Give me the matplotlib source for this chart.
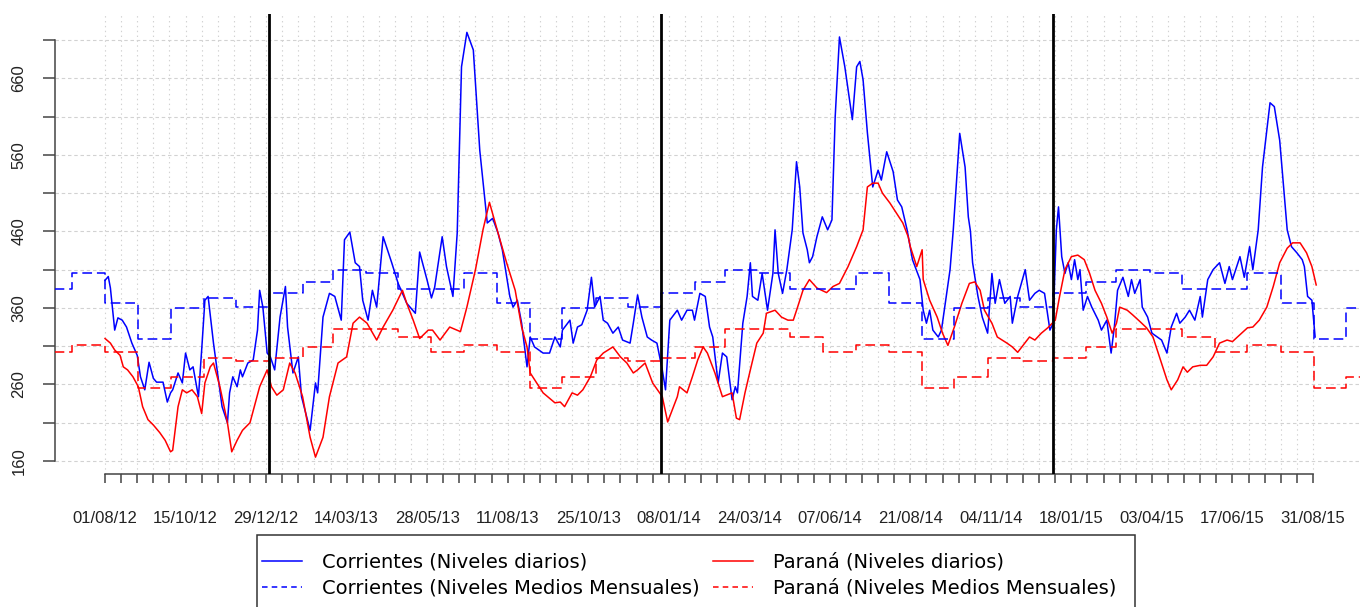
import numpy as np
import pandas as pd
import matplotlib
matplotlib.use('Agg')
import matplotlib.pyplot as plt
import matplotlib.dates as mdates
from matplotlib.lines import Line2D
from matplotlib.patches import Rectangle

plt.rcParams['lines.scale_dashes'] = False

inicio = pd.Timestamp('2012-08-01')

# niveles diarios (dias desde 01/08/12, altura)
dia_corr = [0, 3, 5, 9, 12, 16, 20, 25, 30, 33, 37, 41, 45, 48, 54, 58, 61, 63, 68, 72,
            75, 79, 82, 87, 90, 93, 96, 101, 104, 109, 114, 116, 119, 123, 126, 128, 133, 138, 142, 144,
            147, 151, 154, 158, 163, 168, 170, 175, 180, 183, 191, 196, 198, 203, 209, 214, 220, 223, 228, 233,
            237, 240, 245, 249, 253, 259, 267, 273, 281, 289, 293, 300, 304, 307, 314, 318, 324, 328, 332, 337,
            343, 349, 356, 361, 366, 370, 377, 380, 384, 388, 393, 396, 400, 408, 414, 419, 424, 426, 433, 436,
            440, 444, 449, 453, 456, 461, 464, 468, 473, 478, 482, 489, 492, 496, 500, 505, 509, 514, 519, 522,
            526, 533, 537, 542, 547, 549, 554, 559, 563, 566, 571, 575, 579, 584, 587, 589, 594, 598, 601, 603,
            608, 612, 617, 622, 624, 627, 631, 635, 640, 644, 647, 650, 654, 656, 659, 663, 668, 673, 677, 680,
            684, 689, 696, 700, 703, 706, 710, 715, 720, 723, 728, 734, 738, 742, 747, 752, 759, 762, 765, 768,
            771, 776, 779, 787, 790, 796, 801, 804, 806, 808, 813, 817, 822, 826, 829, 833, 838, 843, 845, 850,
            857, 861, 866, 870, 875, 880, 883, 886, 888, 891, 894, 897, 900, 903, 906, 908, 911, 915, 919, 925,
            928, 933, 937, 940, 943, 948, 953, 956, 959, 964, 966, 971, 975, 980, 984, 989, 993, 998, 1001, 1006,
            1010, 1015, 1020, 1022, 1027, 1032, 1038, 1043, 1047, 1050, 1057, 1061, 1066, 1069, 1074, 1078, 1085, 1089, 1094, 1101,
            1105, 1110, 1115, 1117, 1120, 1124, 1127]
niv_corr = [396, 401, 386, 331, 347, 344, 335, 314, 298, 270, 253, 289, 268, 263, 263, 237, 249, 253, 275, 262,
            301, 279, 283, 244, 305, 370, 375, 314, 283, 231, 210, 249, 270, 257, 279, 270, 288, 292, 331, 383,
            361, 301, 296, 279, 348, 388, 335, 275, 296, 244, 200, 262, 249, 348, 379, 375, 344, 449, 459, 419,
            414, 370, 344, 383, 361, 453, 419, 392, 366, 353, 433, 396, 373, 387, 453, 414, 375, 458, 675, 720,
            697, 566, 471, 477, 458, 436, 375, 361, 370, 340, 283, 322, 309, 301, 301, 322, 309, 331, 344, 314,
            335, 338, 357, 400, 361, 375, 344, 340, 327, 335, 318, 314, 340, 377, 348, 322, 318, 314, 279, 253,
            344, 357, 344, 357, 357, 344, 379, 375, 335, 322, 262, 301, 296, 240, 257, 249, 340, 375, 419, 375,
            370, 405, 357, 405, 462, 405, 379, 410, 462, 551, 518, 458, 436, 419, 427, 453, 479, 462, 475, 609,
            714, 675, 606, 675, 682, 658, 589, 518, 540, 527, 564, 538, 501, 492, 462, 423, 397, 357, 340, 357,
            331, 322, 331, 410, 462, 588, 544, 479, 460, 419, 375, 348, 327, 405, 366, 397, 366, 375, 340, 375,
            410, 370, 379, 383, 379, 331, 340, 462, 492, 427, 405, 419, 397, 423, 397, 410, 357, 375, 361, 344,
            331, 344, 301, 335, 383, 400, 375, 397, 379, 397, 361, 348, 327, 322, 318, 301, 335, 353, 340, 348,
            357, 344, 375, 348, 397, 410, 419, 392, 414, 397, 427, 400, 440, 410, 462, 544, 628, 623, 579, 462,
            440, 432, 423, 414, 375, 370, 322]

dia_par = [0, 5, 9, 14, 17, 21, 26, 31, 35, 40, 45, 51, 56, 61, 63, 68, 72, 76, 81, 86,
           90, 93, 98, 101, 107, 114, 118, 123, 128, 135, 140, 144, 151, 155, 160, 166, 172, 177, 184, 191,
           196, 203, 209, 217, 225, 231, 237, 244, 253, 259, 268, 277, 281, 287, 293, 301, 305, 312, 321, 331,
           337, 345, 352, 358, 366, 374, 382, 388, 393, 396, 402, 408, 419, 424, 428, 435, 440, 445, 452, 458,
           464, 473, 480, 486, 492, 496, 503, 510, 519, 524, 533, 535, 542, 547, 552, 557, 561, 568, 575, 584,
           588, 591, 596, 601, 607, 613, 616, 624, 630, 636, 641, 645, 650, 656, 663, 672, 678, 684, 692, 700,
           706, 710, 715, 720, 724, 731, 737, 743, 748, 750, 756, 761, 762, 768, 775, 780, 785, 791, 798, 805,
           810, 815, 819, 826, 831, 840, 845, 850, 855, 861, 866, 872, 878, 885, 889, 894, 900, 906, 912, 917,
           922, 928, 933, 938, 942, 945, 952, 957, 964, 970, 976, 982, 989, 993, 999, 1004, 1008, 1013, 1020, 1026,
           1032, 1038, 1045, 1050, 1057, 1064, 1069, 1075, 1082, 1088, 1094, 1101, 1106, 1113, 1119, 1124, 1128]
niv_par = [320, 314, 305, 298, 283, 279, 270, 257, 231, 214, 207, 197, 187, 172, 174, 231, 253, 249, 253, 244,
           222, 262, 283, 288, 257, 210, 172, 187, 200, 210, 236, 257, 279, 257, 246, 253, 288, 275, 244, 191,
           165, 191, 244, 288, 296, 340, 348, 340, 318, 335, 357, 383, 366, 344, 320, 331, 331, 318, 335, 329,
           361, 410, 462, 498, 458, 419, 383, 335, 309, 275, 262, 249, 236, 237, 231, 249, 246, 253, 270, 292,
           301, 309, 296, 288, 275, 279, 288, 262, 244, 211, 244, 257, 249, 270, 292, 309, 301, 275, 244, 249,
           216, 214, 249, 279, 314, 327, 353, 357, 348, 344, 344, 361, 383, 397, 386, 380, 388, 392, 414, 440,
           462, 518, 523, 523, 510, 497, 484, 471, 453, 440, 414, 436, 397, 370, 348, 327, 311, 335, 366, 392,
           394, 383, 357, 340, 322, 314, 309, 302, 311, 322, 318, 327, 334, 344, 375, 410, 427, 429, 423, 405,
           383, 366, 348, 327, 340, 361, 357, 351, 342, 334, 322, 296, 266, 253, 266, 283, 276, 283, 285, 285,
           296, 314, 318, 316, 325, 334, 335, 344, 361, 388, 419, 438, 445, 445, 432, 414, 390]

# niveles medios mensuales (enero a diciembre)
medio_corr = [379, 394, 410, 405, 385, 385, 405, 367, 320, 360, 373, 361]
medio_par = [294, 309, 332, 332, 322, 303, 312, 303, 256, 270, 295, 290]

fecha_corr = inicio + pd.to_timedelta(dia_corr, unit='D')
fecha_par = inicio + pd.to_timedelta(dia_par, unit='D')
meses = pd.date_range('2012-06-01', '2016-01-01', freq='MS')
mes_corr = [medio_corr[m.month - 1] for m in meses]
mes_par = [medio_par[m.month - 1] for m in meses]

cortes = pd.to_datetime(['2013-01-01', '2014-01-01', '2015-01-01'])
ticks_x = pd.date_range(inicio, periods=76, freq='15D')
etiq_x = [t.strftime('%d/%m/%y') if i % 5 == 0 else '' for i, t in enumerate(ticks_x)]
ticks_y = np.arange(160, 711, 50)
etiq_y = [str(v) if (v - 160) % 100 == 0 else '' for v in ticks_y]

W, H = 1360, 607
fig = plt.figure(figsize=(W / 100, H / 100), dpi=100)
ax = fig.add_axes([55 / W, (H - 474) / H, (W - 55) / W, 460 / H])

ax.plot(fecha_corr, niv_corr, color='blue', lw=1.1, zorder=3)
ax.plot(fecha_par, niv_par, color='red', lw=1.1, zorder=3)
ax.step(meses, mes_corr, where='post', color='blue', lw=1.1, dashes=(7, 3.5), zorder=3)
ax.step(meses, mes_par, where='post', color='red', lw=1.1, dashes=(7, 3.5), zorder=3)
for c in cortes:
    ax.axvline(c, color='black', lw=2, zorder=4)

ax.set_xlim(inicio - pd.Timedelta(days=46.6), inicio + pd.Timedelta(days=1168.8))
ax.set_ylim(143, 744)
ax.set_xticks(ticks_x)
ax.set_xticklabels(etiq_x)
ax.set_yticks(ticks_y)
ax.set_yticklabels(etiq_y, rotation=90, va='center')

ax.set_axisbelow(True)
ax.xaxis.grid(True, color='#d2d2d2', lw=0.8, linestyle=(0, (1, 2.5)))
ax.yaxis.grid(True, color='#d2d2d2', lw=0.8, linestyle=(0, (2.5, 2)))

for s in ['top', 'right']:
    ax.spines[s].set_visible(False)
ax.spines['left'].set_bounds(160, 710)
ax.spines['bottom'].set_bounds(mdates.date2num(ticks_x[0]), mdates.date2num(ticks_x[-1]))
for s in ['left', 'bottom']:
    ax.spines[s].set_color('#444444')
    ax.spines[s].set_linewidth(1.1)

ax.tick_params(axis='x', length=6.5, width=1.1, color='#444444', pad=20,
               labelsize=12, labelcolor='#222222')
ax.tick_params(axis='y', length=8.6, width=1.1, color='#444444', pad=12,
               labelsize=12, labelcolor='#222222')
for lab in ax.get_xticklabels() + ax.get_yticklabels():
    lab.set_fontfamily('Liberation Sans')

handles = [Line2D([], [], color='blue', lw=1.1),
           Line2D([], [], color='blue', lw=1.1, dashes=(4, 3)),
           Line2D([], [], color='red', lw=1.1),
           Line2D([], [], color='red', lw=1.1, dashes=(4, 3))]
labels = ['Corrientes (Niveles diarios)', 'Corrientes (Niveles Medios Mensuales)',
          'Paraná (Niveles diarios)', 'Paraná (Niveles Medios Mensuales)']
fig.legend(handles, labels, ncol=2, loc='upper left', bbox_to_anchor=(262 / W, (H - 553) / H),
           frameon=False, borderpad=0, borderaxespad=0, handlelength=2.06, handletextpad=1.03,
           columnspacing=0.67, labelspacing=0.34, prop={'family': 'DejaVu Sans', 'size': 14})
fig.add_artist(Rectangle((257 / W, -0.1), (1135 - 257) / W, 0.1 + (H - 535) / H,
                         transform=fig.transFigure, fill=False, ec='#333333', lw=1.1))

fig.savefig('out.png', dpi=100)
